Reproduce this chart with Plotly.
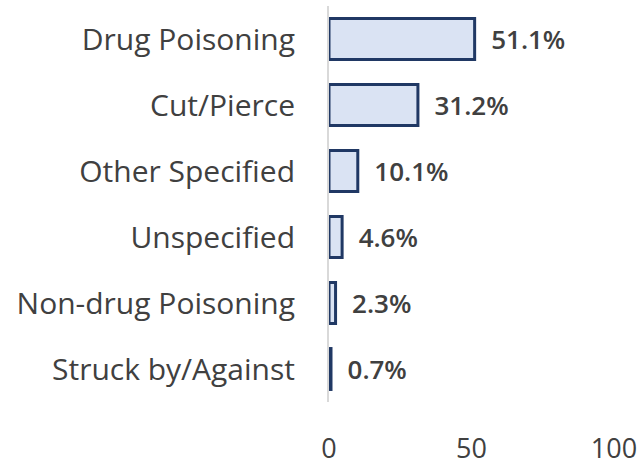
import plotly.graph_objects as go

categories = ["Drug Poisoning", "Cut/Pierce", "Other Specified", "Unspecified",
              "Non-drug Poisoning", "Struck by/Against"]
values = [51.1, 31.2, 10.1, 4.6, 2.3, 0.7]
labels = [f"{v:.1f}%" for v in values]
x_ticks = [0, 50, 100]

fig = go.Figure()
fig.add_trace(go.Bar(
    y=categories, x=values, orientation="h",
    marker=dict(color="#dae3f3", line=dict(color="#203864", width=3)),
    width=0.62,
    text=labels, texttemplate="  %{text}", textposition="outside", cliponaxis=False,
    textfont=dict(family="Open Sans", size=26, color="#404040", weight=600),
    hoverinfo="skip",
))

fig.update_layout(
    width=642, height=466,
    margin=dict(l=329, r=28, t=6, b=64, autoexpand=False),
    paper_bgcolor="white", plot_bgcolor="white",
    showlegend=False,
    font=dict(family="Open Sans", size=27, color="#404040"),
    xaxis=dict(range=[0, 100], tickvals=x_ticks, showgrid=False, zeroline=False,
               showline=False, ticks="", ticklabelstandoff=28, automargin=False,
               tickfont=dict(size=27, color="#404040")),
    yaxis=dict(autorange="reversed", showgrid=False, zeroline=False,
               showline=True, linecolor="#d9d9d9", linewidth=2, automargin=False,
               ticks="", ticklabelstandoff=26,
               tickfont=dict(size=30, color="#404040")),
)
fig.write_html("out.html", config={"displayModeBar": False},
               post_script="document.body.style.margin='0';document.body.style.overflow='hidden';")
